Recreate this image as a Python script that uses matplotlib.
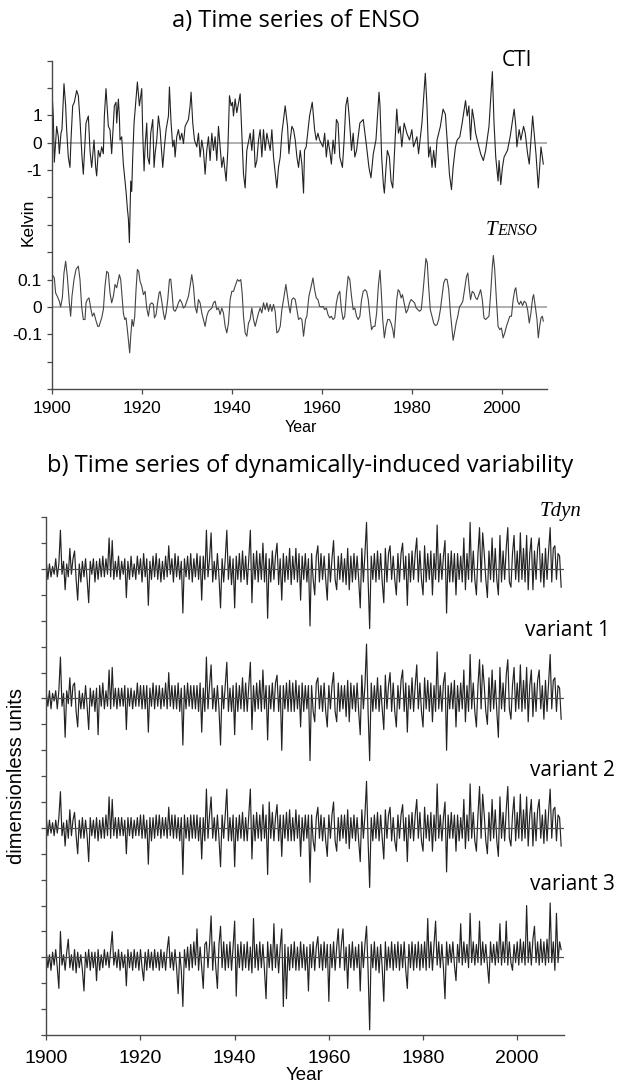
import numpy as np
import matplotlib
matplotlib.use("Agg")
import matplotlib.pyplot as plt

W, H = 617, 1086

# ---- a) ENSO series (read off the picture) ----
cti_years = [
    1900.00, 1900.22, 1900.45, 1900.97, 1901.34, 1901.56, 1901.93, 1902.15, 1902.60, 1902.97,
    1903.19, 1903.56, 1903.93, 1904.16, 1904.53, 1904.90, 1905.42, 1905.79, 1906.16, 1906.61,
    1906.90, 1907.50, 1908.02, 1908.39, 1908.76, 1909.28, 1909.65, 1909.87, 1910.24, 1910.62,
    1910.99, 1911.36, 1911.58, 1911.95, 1912.47, 1912.84, 1913.21, 1913.81, 1914.18, 1914.33,
    1914.70, 1914.92, 1915.07, 1915.44, 1915.81, 1916.41, 1916.70, 1916.93, 1917.15, 1917.45,
    1917.67, 1917.89, 1918.04, 1918.19, 1918.63, 1918.93, 1919.38, 1919.90, 1920.12, 1920.42,
    1920.64, 1921.01, 1921.23, 1921.60, 1921.90, 1922.35, 1922.64, 1922.87, 1923.24, 1923.61,
    1923.98, 1924.57, 1924.94, 1925.32, 1925.84, 1926.06, 1926.43, 1926.80, 1927.10, 1927.32,
    1927.69, 1928.06, 1928.43, 1928.81, 1929.18, 1929.55, 1930.29, 1930.66, 1930.88, 1931.25,
    1931.63, 1932.15, 1932.52, 1932.89, 1933.26, 1933.63, 1934.00, 1934.37, 1934.74, 1935.11,
    1935.49, 1935.86, 1936.23, 1936.60, 1936.97, 1937.34, 1937.71, 1938.08, 1938.68, 1939.05,
    1939.42, 1939.79, 1940.09, 1940.31, 1940.68, 1941.05, 1941.80, 1942.17, 1942.54, 1942.91,
    1943.28, 1944.02, 1944.39, 1944.77, 1945.14, 1945.51, 1945.88, 1946.25, 1946.62, 1946.99,
    1947.36, 1947.74, 1948.48, 1948.85, 1949.22, 1949.96, 1950.33, 1950.71, 1951.08, 1951.82,
    1952.34, 1952.64, 1952.93, 1953.30, 1953.67, 1954.05, 1954.42, 1954.79, 1955.16, 1955.53,
    1955.90, 1956.12, 1956.49, 1957.24, 1957.84, 1958.36, 1958.73, 1959.10, 1959.48, 1960.22,
    1960.60, 1960.97, 1961.34, 1961.72, 1962.09, 1962.46, 1962.84, 1963.21, 1963.58, 1963.96,
    1964.55, 1964.93, 1965.30, 1965.67, 1966.04, 1966.57, 1966.94, 1967.31, 1967.69, 1968.43,
    1969.18, 1969.55, 1969.93, 1970.45, 1970.90, 1971.42, 1972.01, 1972.69, 1972.91, 1973.28,
    1973.66, 1973.88, 1974.25, 1974.55, 1975.00, 1975.37, 1975.75, 1976.27, 1976.64, 1977.01,
    1977.39, 1977.76, 1978.28, 1978.88, 1979.48, 1980.00, 1980.37, 1981.12, 1981.49, 1982.24,
    1982.99, 1983.36, 1983.73, 1984.10, 1984.48, 1984.85, 1985.22, 1985.60, 1986.34, 1986.94,
    1987.46, 1987.84, 1988.36, 1988.81, 1989.18, 1989.70, 1990.07, 1990.67, 1991.19, 1991.94,
    1992.31, 1992.69, 1993.06, 1993.43, 1993.81, 1994.18, 1994.55, 1995.30, 1995.90, 1996.42,
    1997.16, 1997.91, 1998.28, 1998.66, 1999.18, 1999.40, 1999.78, 2000.15, 2000.52, 2001.27,
    2001.87, 2002.76, 2003.13, 2003.36, 2003.88, 2004.25, 2004.85, 2005.22, 2005.75, 2006.12,
    2006.87, 2007.61, 2008.13, 2008.73, 2009.25,
]
cti_kelvin = [
    1.66, 0.98, -0.71, 0.60, 0.22, -0.40, 0.35, 0.48, 2.16, 1.35,
    0.48, -0.52, -0.90, 0.10, 1.35, 1.48, 1.91, 1.72, 0.85, -0.52,
    -1.15, 0.72, 0.98, -0.28, -0.90, 0.10, -0.90, -1.21, -0.28, -0.52,
    -0.15, -0.40, 0.98, 1.98, 0.60, 0.48, -0.40, 1.35, 1.48, 0.72,
    1.60, 0.98, 0.10, 0.22, -0.78, -1.78, -2.40, -2.78, -3.65, -1.40,
    -1.78, -0.52, 0.10, 0.72, 1.60, 2.22, 1.35, 1.98, 0.35, -1.03,
    -0.15, 0.72, -0.52, -0.78, 0.35, 0.85, -0.90, -0.40, 0.10, 0.98,
    0.48, -0.90, -0.15, 0.48, 0.98, 2.04, 0.72, -0.15, 0.10, -0.52,
    0.22, 0.48, 0.10, 0.35, -0.03, 0.60, 0.85, 1.35, 1.85, 0.72,
    0.10, -0.15, 0.35, -0.52, 0.10, -0.28, -1.15, -0.28, 0.22, -0.65,
    0.35, -0.28, 0.22, -0.65, 0.60, -0.15, -0.90, -0.52, -1.40, -0.28,
    1.72, 1.35, 1.48, 0.98, 1.60, 1.10, 1.79, 0.35, -1.15, -1.65,
    -0.28, 0.35, -0.28, 0.48, -0.90, -0.65, 0.10, 0.48, -0.52, 0.48,
    -0.28, 0.35, -0.28, 0.48, -0.52, -1.65, -0.90, -0.52, 0.35, 1.35,
    0.60, -0.40, 0.10, 0.60, 0.48, 0.10, -0.52, -0.90, -0.28, -0.78,
    -1.84, -0.28, -0.15, 0.98, 1.48, 0.48, 0.10, 0.35, 0.10, -0.15,
    0.35, -0.52, 0.10, -0.28, -0.78, 0.10, -0.40, 0.85, 0.72, -0.52,
    -0.90, 0.10, 1.35, 1.66, 0.98, -0.28, 0.35, -0.52, -0.28, 0.72,
    0.85, 0.35, -0.15, -0.90, -1.28, -0.40, 0.10, 1.85, 1.35, -0.52,
    -1.53, -1.84, -0.90, -0.28, -0.52, -1.40, -1.65, 0.10, 1.23, 0.35,
    0.60, -0.15, 0.72, 0.35, 0.10, 0.48, -0.15, 0.22, -0.40, 0.72,
    2.54, 1.35, -0.52, -0.15, -0.90, -0.28, -0.90, 0.10, 0.60, 1.23,
    1.04, 0.10, -1.15, -1.71, -0.90, -0.15, 0.10, 0.22, 0.72, 1.54,
    0.98, 1.35, 0.10, 1.23, 0.85, 0.35, 0.10, -0.40, -0.65, -0.28,
    0.60, 2.60, 0.72, -0.52, -1.40, -0.65, -1.53, -0.90, -0.52, -0.28,
    0.22, 1.23, 0.60, -0.15, 0.48, 0.10, 0.60, 0.35, -0.40, -0.78,
    0.98, -0.40, -1.65, -0.15, -0.78,
]

tenso_years = [
    1900.00, 1900.45, 1900.74, 1901.11, 1901.56, 1901.86, 1902.23, 1902.60, 1902.97, 1903.34,
    1903.79, 1904.08, 1904.38, 1904.83, 1905.27, 1905.79, 1906.16, 1906.53, 1906.90, 1907.28,
    1907.50, 1907.80, 1908.17, 1908.54, 1908.91, 1909.28, 1909.65, 1910.10, 1910.39, 1910.62,
    1910.99, 1911.36, 1911.73, 1912.10, 1912.47, 1912.84, 1913.21, 1913.59, 1913.96, 1914.33,
    1914.70, 1914.92, 1915.22, 1915.52, 1915.81, 1916.11, 1916.41, 1916.70, 1917.00, 1917.22,
    1917.45, 1917.74, 1918.04, 1918.34, 1918.63, 1918.93, 1919.23, 1919.52, 1919.90, 1920.27,
    1920.64, 1921.01, 1921.38, 1921.75, 1922.12, 1922.49, 1922.72, 1923.09, 1923.38, 1923.76,
    1923.98, 1924.35, 1924.72, 1925.02, 1925.32, 1925.69, 1926.06, 1926.35, 1926.65, 1926.95,
    1927.32, 1927.69, 1928.06, 1928.43, 1928.81, 1929.18, 1929.55, 1929.92, 1930.29, 1930.66,
    1931.03, 1931.40, 1931.77, 1932.15, 1932.52, 1932.89, 1933.26, 1933.63, 1934.00, 1934.37,
    1934.74, 1935.11, 1935.49, 1935.86, 1936.23, 1936.60, 1936.97, 1937.34, 1937.71, 1938.08,
    1938.46, 1938.83, 1939.20, 1939.57, 1939.94, 1940.31, 1940.68, 1941.20, 1941.57, 1941.94,
    1942.24, 1942.54, 1942.91, 1943.28, 1943.65, 1944.02, 1944.39, 1944.77, 1945.14, 1945.51,
    1945.88, 1946.25, 1946.62, 1946.99, 1947.36, 1947.74, 1948.11, 1948.48, 1948.85, 1949.22,
    1949.59, 1949.96, 1950.33, 1950.71, 1951.08, 1951.45, 1951.97, 1952.34, 1952.64, 1952.93,
    1953.30, 1953.67, 1954.05, 1954.42, 1954.79, 1955.16, 1955.53, 1955.90, 1956.34, 1956.64,
    1957.09, 1957.61, 1957.99, 1958.36, 1958.73, 1959.10, 1959.48, 1959.85, 1960.22, 1960.60,
    1960.97, 1961.34, 1961.72, 1962.09, 1962.46, 1962.84, 1963.21, 1963.58, 1963.96, 1964.33,
    1964.70, 1965.07, 1965.45, 1965.82, 1966.19, 1966.57, 1966.94, 1967.31, 1967.69, 1968.06,
    1968.43, 1968.81, 1969.18, 1969.55, 1969.93, 1970.30, 1970.67, 1971.04, 1971.42, 1971.79,
    1972.16, 1972.54, 1972.91, 1973.21, 1973.51, 1973.88, 1974.25, 1974.63, 1975.00, 1975.37,
    1975.75, 1976.04, 1976.34, 1976.64, 1976.94, 1977.24, 1977.61, 1977.91, 1978.28, 1978.73,
    1979.10, 1979.48, 1979.85, 1980.22, 1980.60, 1980.97, 1981.34, 1981.72, 1982.09, 1982.46,
    1982.84, 1983.13, 1983.43, 1983.73, 1984.10, 1984.48, 1984.85, 1985.22, 1985.60, 1985.97,
    1986.34, 1986.72, 1987.09, 1987.46, 1987.84, 1988.21, 1988.58, 1988.96, 1989.18, 1989.48,
    1989.85, 1990.22, 1990.60, 1990.97, 1991.34, 1991.72, 1992.16, 1992.46, 1992.76, 1993.06,
    1993.43, 1993.81, 1994.18, 1994.55, 1994.93, 1995.30, 1995.67, 1996.04, 1996.42, 1996.79,
    1997.16, 1997.54, 1997.91, 1998.13, 1998.43, 1998.81, 1999.18, 1999.55, 1999.93, 2000.30,
    2000.67, 2001.04, 2001.42, 2001.79, 2002.16, 2002.54, 2002.91, 2003.13, 2003.51, 2003.88,
    2004.25, 2004.63, 2005.00, 2005.37, 2005.75, 2006.12, 2006.49, 2006.87, 2007.09, 2007.46,
    2007.84, 2008.13, 2008.43, 2008.73, 2009.03, 2009.25,
]
tenso_kelvin = [
    0.118, 0.106, 0.051, 0.039, 0.021, 0.000, 0.033, 0.124, 0.167, 0.112,
    0.015, -0.034, 0.039, 0.100, 0.137, 0.149, 0.100, 0.002, -0.046, -0.046,
    0.015, 0.027, 0.033, -0.004, -0.034, -0.022, -0.046, -0.071, -0.071, -0.059,
    -0.040, -0.010, 0.076, 0.130, 0.124, 0.051, 0.015, 0.039, 0.082, 0.070,
    0.100, 0.118, 0.100, 0.039, -0.022, -0.046, -0.040, -0.083, -0.132, -0.168,
    -0.107, -0.046, -0.071, -0.034, 0.063, 0.137, 0.130, 0.094, 0.076, 0.045,
    0.057, -0.004, -0.034, 0.009, 0.015, 0.009, -0.040, -0.028, 0.009, 0.051,
    0.057, 0.021, -0.022, -0.046, -0.022, 0.027, 0.100, 0.102, 0.051, -0.010,
    -0.016, -0.004, 0.015, 0.027, 0.015, -0.004, 0.002, 0.021, 0.039, 0.076,
    0.118, 0.076, 0.002, -0.022, 0.027, 0.015, -0.022, -0.046, -0.071, -0.034,
    -0.016, -0.010, -0.004, 0.015, 0.021, -0.010, -0.004, -0.028, -0.004, -0.022,
    -0.071, -0.095, -0.059, 0.027, 0.057, 0.057, 0.076, 0.100, 0.094, 0.100,
    0.051, -0.034, -0.095, -0.107, -0.059, -0.046, -0.004, -0.046, -0.071, -0.046,
    -0.022, -0.004, -0.022, 0.015, -0.010, 0.015, -0.016, 0.009, -0.016, 0.009,
    -0.016, -0.095, -0.089, -0.071, -0.010, 0.027, 0.082, 0.039, 0.002, -0.022,
    0.027, 0.033, 0.027, -0.010, -0.046, -0.040, -0.046, -0.107, -0.046, -0.034,
    0.039, 0.076, 0.106, 0.063, 0.033, 0.027, 0.002, 0.000, 0.002, -0.010,
    -0.004, -0.028, -0.040, -0.034, -0.046, -0.040, 0.015, 0.045, 0.057, -0.010,
    -0.046, -0.034, 0.051, 0.112, 0.100, 0.039, -0.010, -0.004, -0.034, -0.046,
    -0.034, 0.027, 0.057, 0.063, 0.057, 0.027, -0.034, -0.083, -0.071, -0.071,
    -0.022, 0.076, 0.134, 0.051, -0.046, -0.113, -0.071, -0.046, -0.046, -0.059,
    -0.083, -0.113, -0.046, 0.027, 0.063, 0.057, 0.033, 0.045, 0.015, -0.022,
    -0.010, 0.015, 0.027, 0.021, 0.015, -0.004, -0.010, -0.016, -0.010, 0.051,
    0.124, 0.177, 0.161, 0.076, -0.010, -0.034, -0.059, -0.068, -0.065, -0.046,
    -0.010, 0.039, 0.088, 0.102, 0.100, 0.063, -0.022, -0.083, -0.122, -0.095,
    -0.059, -0.034, 0.000, 0.009, 0.021, 0.063, 0.112, 0.124, 0.070, 0.027,
    0.057, 0.051, 0.033, 0.027, 0.045, 0.063, 0.027, -0.040, -0.046, -0.040,
    -0.034, 0.051, 0.149, 0.188, 0.137, 0.027, -0.071, -0.083, -0.077, -0.113,
    -0.095, -0.071, -0.052, -0.034, -0.034, 0.027, 0.063, 0.070, 0.021, 0.009,
    0.021, 0.005, 0.021, 0.015, -0.010, -0.059, -0.022, 0.033, 0.045, 0.002,
    -0.046, -0.113, -0.071, -0.040, -0.034, -0.052,
]

# ---- b) dynamically-induced series: 3 samples per year from 1900, in tenths of a tick ----
dyn_start = 1900
dyn_per_year = 3
tdyn = [
    3, -4, 2, -3, 1, -2, 4, -3, 2, 15, -2, 3, -8, 2, -3, 8, -2, 4, 7, -4, -12, 2, -5, 3, -3, 4, -4, -13, 3, -2,
    4, -5, 3, -4, 4, -3, 5, -3, 4, -2, 12, -3, 11, -4, 3, -3, 5, -4, 3, -2, 4, -11, 3, -4, 5, -3, 2, -4, 5, -2,
    4, -5, 6, -3, 4, -14, 3, -4, 5, -3, 6, -4, 4, -5, 3, -4, 5, -3, 9, -2, 4, -5, 6, -3, 5, -4, 3, -17, 4, -3,
    5, -4, 6, -5, 4, -3, 6, -4, 5, -12, 5, -4, 15, -3, 4, 14, -5, 3, -4, 6, -3, -15, 4, -5, 4, 15, -4, 5, -6, 4,
    -15, 5, -4, 6, -5, 7, -4, 5, -6, 4, 15, -13, 6, -4, 7, -5, 6, -4, 10, -5, 6, -19, 4, -5, 7, -4, 5, 10, -6, 4,
    -12, 6, -5, 5, -4, 8, -6, 5, -4, 8, -5, 6, -12, 5, -4, 6, -5, 4, -22, 6, -4, -10, 5, 9, -5, 6, -4, 5, -4, -12,
    6, -5, 4, 11, -4, -8, 5, -4, 6, -5, 4, -6, 8, -8, 5, -5, 6, -4, 5, -4, -15, 8, -5, 6, 18, -4, -23, 5, -4, 6,
    -5, 7, -4, 6, -5, -13, 8, -5, 6, 9, -4, 5, -4, -10, 6, -5, 6, 10, -4, 5, -14, 6, -5, 7, -4, 6, 12, -5, 7, -4,
    -10, 9, -5, 6, -4, 7, -10, 6, -4, 17, -5, 6, -4, 5, 11, -17, 6, -5, 7, -5, 6, -10, 6, -4, 5, -5, 12, -8, 6, -4,
    18, -5, 7, -4, -10, 6, 16, -5, 14, 6, -4, -11, 7, -4, 12, -5, 8, -4, -10, 13, -5, 7, -4, 8, 16, -5, -7, 6, 13, -4,
    7, -5, 14, -4, 8, -5, 13, -8, 6, 12, -8, 7, -4, 8, 12, -5, 6, -7, 8, -4, 7, 16, -5, 8, 9, -4, 6, 5, -7,
]
variant1 = [
    2, -3, 3, -4, 2, -1, 3, -4, 3, 16, -3, 2, -15, 3, -2, 8, -3, 5, 6, -5, -11, 3, -4, 2, -4, 5, -3, -12, 4, -3,
    3, -5, 4, -14, 5, -3, 6, -4, 3, -3, 11, -4, 12, -3, 4, -4, 4, -3, 4, -3, 5, -12, 4, -3, 4, -4, 3, -3, 6, -3,
    5, -4, 5, -4, 5, -13, 4, -3, 6, -4, 5, -3, 5, -4, 4, -3, 6, -4, 10, -3, 5, -4, 5, -4, 6, -5, 4, -18, 5, -4,
    6, -3, 5, -4, 5, -4, 5, -5, 6, -13, 4, -5, 16, -4, 5, 13, -4, 4, -5, 5, -4, -18, 5, -4, 5, 14, -5, 4, -5, 5,
    -14, 6, -5, 5, -4, 8, -5, 6, -5, 5, 14, -12, 5, -5, 6, -4, 7, -5, 11, -4, 5, -16, 5, -4, 6, -5, 6, 9, -5, 5,
    -20, 5, -4, 6, -5, 7, -5, 6, -5, 7, -4, 5, -11, 6, -5, 5, -4, 5, -24, 5, -5, -9, 6, 8, -4, 5, -5, 6, -5, -11,
    5, -4, 5, 10, -5, -9, 6, -5, 5, -4, 5, -7, 7, -9, 6, -4, 5, -5, 6, -5, -14, 9, -4, 5, 21, -5, -24, 6, -5, 5,
    -4, 8, -5, 5, -4, -12, 9, -4, 5, 10, -5, 6, -5, -11, 5, -4, 7, 11, -5, 6, -13, 5, -4, 8, -5, 5, 13, -4, 6, -5,
    -11, 8, -4, 7, -5, 6, -9, 5, -5, 18, -4, 5, -5, 6, 10, -20, 5, -4, 6, -4, 7, -11, 5, -5, 6, -4, 11, -9, 5, -5,
    17, -4, 6, -5, -11, 5, 15, -4, 13, 5, -5, -10, 8, -5, 11, -4, 7, -5, -15, 12, -4, 6, -5, 9, 15, -4, -8, 5, 12, -5,
    6, -4, 13, -5, 7, -4, 12, -9, 5, 11, -7, 6, -5, 7, 11, -4, 5, -8, 7, -5, 6, 17, -4, 7, 8, -5, 5, 4, -8,
]
variant2 = [
    4, -3, 3, -2, 2, -3, 3, -2, 4, 14, -3, 2, -7, 3, -4, 7, -3, 3, 6, -3, -10, 3, -4, 4, -4, 3, -3, -13, 4, -3,
    3, -4, 4, -5, 3, -4, 4, -4, 5, -3, 12, -4, 11, -3, 4, -4, 4, -3, 4, -3, 3, -10, 4, -3, 4, -4, 3, -3, 4, -3,
    5, -4, 5, -4, 3, -14, 4, -5, 4, -4, 5, -3, 5, -4, 4, -3, 4, -4, 8, -3, 5, -4, 5, -4, 4, -5, 4, -18, 5, -4,
    4, -5, 5, -4, 5, -4, 5, -5, 4, -12, 4, -5, 15, -4, 5, 12, -4, 4, -5, 5, -4, -15, 5, -4, 5, 15, -5, 4, -5, 5,
    -15, 4, -5, 5, -4, 6, -5, 4, -5, 5, 15, -12, 5, -5, 6, -4, 5, -5, 9, -4, 5, -18, 10, -4, 6, -5, 4, 9, -5, 5,
    -11, 5, -4, 6, -5, 7, -5, 4, -5, 7, -4, 5, -11, 4, -5, 5, -4, 5, -21, 5, -5, -9, 4, 8, -4, 5, -5, 4, -5, -11,
    5, -4, 5, 10, -5, -9, 4, -5, 5, -4, 5, -6, 7, -8, 4, -4, 5, -5, 4, -5, -13, 7, -4, 5, 18, -5, -23, 4, -5, 5,
    -4, 6, -5, 5, -4, -12, 7, -4, 5, 8, -5, 4, -5, -9, 5, -4, 5, 9, -5, 4, -13, 5, -4, 6, -5, 5, 11, -4, 6, -5,
    -9, 8, -4, 5, -5, 6, -9, 5, -5, 17, -4, 5, -5, 4, 10, -17, 5, -4, 6, -4, 5, -9, 5, -5, 4, -4, 11, -8, 5, -5,
    17, -4, 6, -5, -9, 5, 16, -4, 13, 5, -5, -10, 6, -5, 11, -4, 7, -5, -11, 12, -4, 6, -5, 7, 16, -4, -7, 5, 12, -5,
    6, -4, 13, -5, 7, -4, 12, -7, 5, 11, -7, 6, -5, 7, 11, -4, 5, -6, 7, -5, 6, 15, -4, 7, 8, -5, 5, 4, -7,
]
variant3 = [
    2, -4, 1, -5, 2, -3, 3, -4, -12, 10, -3, 1, -5, 2, 7, -4, 1, -5, 3, -6, 2, -4, 1, -5, -13, 2, -4, 3, -5, 2,
    -4, 2, -9, 3, -5, 1, -4, 3, -3, 2, -4, 3, 10, -3, 2, -4, 3, -5, 2, -4, 1, -11, 3, -4, 2, -5, 3, -4, 2, -5,
    3, -4, -9, 2, -5, 3, -4, 2, -5, 3, -4, 2, -5, 3, -4, 2, -5, 3, 8, -4, 2, -5, 3, -4, -14, 2, -5, -19, 3, -4,
    4, -5, 5, -4, 6, -3, 11, -5, 4, -4, -12, 5, 6, -4, 5, 16, -5, 6, -4, -12, 5, 12, -4, 6, -5, 5, -4, 6, -5, 4,
    14, -15, 5, -4, 6, -5, 5, -4, 6, -5, 4, -6, 15, -4, 5, -5, 6, -4, 5, -5, -16, 6, -4, 5, -5, 13, -4, 5, -6, 4,
    11, -19, 5, -16, 4, -5, 5, -4, 6, -5, 4, -5, 6, -4, 5, -5, 4, -13, 5, -4, 6, -5, 4, 8, -4, 5, -5, 6, -4, 5,
    -17, 5, -4, 6, -5, 4, 11, -4, 5, 11, -5, 4, -12, 5, -4, 6, -5, 4, -4, 5, -13, 6, -4, 5, 12, -5, -28, 5, -4, 6,
    -5, 4, -6, 5, -4, -17, 6, -5, 4, -4, 6, -5, 5, -4, 6, -5, 5, -4, 6, -5, -12, 5, -4, 6, -5, 5, -4, 6, -5, 5,
    -4, 6, -5, 15, -4, 6, -5, 5, 14, -3, 6, -4, 5, -4, -16, 6, -3, 5, -2, 6, -3, -9, 5, -2, 13, -3, 6, -2, 5, -4,
    17, -2, 6, -3, 5, -2, 14, -3, 6, -2, 5, -3, -10, 6, -2, 5, -3, 6, -2, 13, -3, 6, -2, 14, -3, 6, -2, -5, 5, -2,
    6, -3, 7, -2, 6, -3, 20, -2, 6, -3, 7, 12, -2, 6, -3, 7, -2, 6, -3, 7, -2, 21, -2, 6, -5, 17, -2, 6, 3,
]

dyn_names = ["Tdyn", "variant 1", "variant 2", "variant 3"]
dyn_series = [tdyn, variant1, variant2, variant3]
dyn_offsets = [18, 13, 8, 3]        # zero line of each trace, in tick steps

cti_zero, tenso_zero = 9, 3          # zero lines in panel a, in tick steps

SANS = "Liberation Sans"
TITLE = "Open Sans"
SERIF = "Liberation Serif"
LINE = "#222222"
AXC = "#4a4a4a"


def box(l, t, r, b):
    return [l / W, 1 - b / H, (r - l) / W, (b - t) / H]


def ftext(x, y, s, **kw):
    fig.text(x / W, 1 - y / H, s, **kw)


def style(ax, labelsize):
    for side in ("top", "right"):
        ax.spines[side].set_visible(False)
    for side in ("left", "bottom"):
        ax.spines[side].set_color(AXC)
        ax.spines[side].set_linewidth(1.0)
    ax.tick_params(direction="out", length=3.5, width=0.9, color=AXC,
                   labelsize=labelsize, labelcolor="black")
    for lab in ax.get_xticklabels() + ax.get_yticklabels():
        lab.set_family(SANS)
    ax.set_xlim(1900, 2010)
    ax.set_xticks(range(1900, 2001, 20))
    ax.patch.set_alpha(0)


fig = plt.figure(figsize=(W / 100, H / 100), dpi=100)

# ---- panel a ----
ax1 = fig.add_axes(box(52.3, 60.7, 546.7, 389))
ax1.set_ylim(0, 12)
ax1.set_yticks(range(13))
ylabels = [""] * 13
ylabels[cti_zero + 1], ylabels[cti_zero], ylabels[cti_zero - 1] = "1", "0", "-1"
ylabels[tenso_zero + 1], ylabels[tenso_zero], ylabels[tenso_zero - 1] = "0.1", "0", "-0.1"
ax1.set_yticklabels(ylabels)
ax1.axhline(cti_zero, color="#9a9a9a", lw=1.1, zorder=1)
ax1.axhline(tenso_zero, color="#9a9a9a", lw=1.1, zorder=1)
ax1.plot(cti_years, cti_zero + np.array(cti_kelvin), color=LINE, lw=0.8, zorder=2)
ax1.plot(tenso_years, tenso_zero + 10 * np.array(tenso_kelvin), color="#444444", lw=0.8, zorder=2)
style(ax1, 12.5)
ax1.tick_params(axis="x", pad=5)
ax1.tick_params(axis="y", pad=4)

# ---- panel b ----
ax2 = fig.add_axes(box(46.3, 517.3, 564.3, 1035))
ax2.set_ylim(0, 20)
ax2.set_yticks(range(21))
ax2.set_yticklabels([])
for vals, off in zip(dyn_series, dyn_offsets):
    yrs = dyn_start + np.arange(len(vals)) / dyn_per_year
    ax2.plot(yrs, off + np.array(vals) / 10.0, color=LINE, lw=0.85, zorder=2)
    ax2.axhline(off, color="#505050", lw=0.9, zorder=3)
style(ax2, 14)
ax2.tick_params(axis="x", pad=7)

# ---- text ----
ftext(296, 21, "a) Time series of ENSO", ha="center", va="center", family=TITLE, fontsize=17)
ftext(517, 61, "CTI", ha="center", va="center", family=TITLE, fontsize=15)
ftext(497, 235, "T", ha="right", va="baseline", family=SERIF, style="italic", fontsize=15)
ftext(497, 235, "ENSO", ha="left", va="baseline", family=SERIF, style="italic", fontsize=11.5)
ftext(28, 222, "Kelvin", ha="center", va="center", rotation=90, family=SANS, fontsize=12.5)
ftext(301, 427, "Year", ha="center", va="center", family=SANS, fontsize=11.5)

ftext(310, 466, "b) Time series of dynamically-induced variability", ha="center", va="center",
      family=TITLE, fontsize=17)
ftext(582, 516, dyn_names[0], ha="right", va="baseline", family=SERIF, style="italic", fontsize=15)
ftext(610, 630, dyn_names[1], ha="right", va="center", family=TITLE, fontsize=15)
ftext(615, 770, dyn_names[2], ha="right", va="center", family=TITLE, fontsize=15)
ftext(615, 885, dyn_names[3], ha="right", va="center", family=TITLE, fontsize=15)
ftext(17, 776, "dimensionless units", ha="center", va="center", rotation=90, family=SANS, fontsize=14.5)
ftext(305, 1075, "Year", ha="center", va="center", family=SANS, fontsize=13.5)

fig.savefig("out.png", dpi=100)
